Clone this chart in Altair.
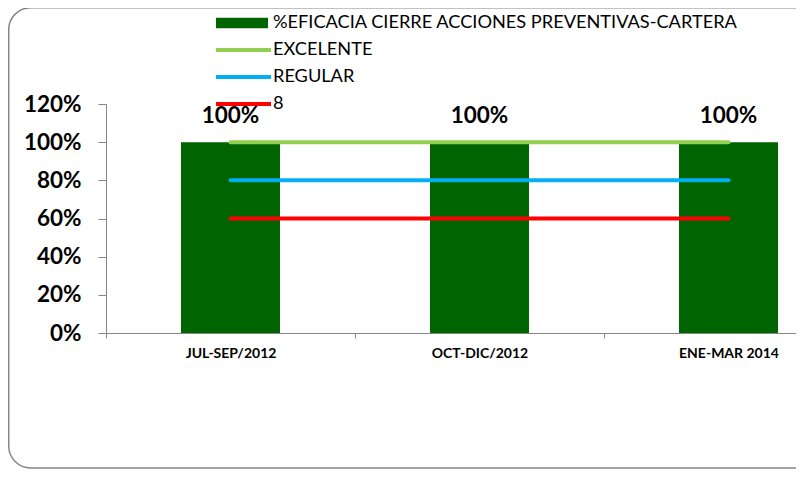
import altair as alt
import pandas as pd

categorias = ["JUL-SEP/2012", "OCT-DIC/2012", "ENE-MAR 2014"]
eficacia = [1.0, 1.0, 1.0]
excelente = [1.0, 1.0, 1.0]
regular = [0.8, 0.8, 0.8]
ocho = [0.6, 0.6, 0.6]

bar_name = "%EFICACIA CIERRE ACCIONES PREVENTIVAS-CARTERA"
line_names = ["EXCELENTE", "REGULAR", "8"]
line_colors = ["#92D050", "#00B0F0", "#FF0000"]
bar_color = "#006400"
FONT = "Lato"

idx = list(range(len(categorias)))
bars = pd.DataFrame({"idx": idx, "cat": categorias, "valor": eficacia, "serie": bar_name})
lines = pd.DataFrame({
    "idx": idx * 3,
    "valor": excelente + regular + ocho,
    "serie": [line_names[0]] * 3 + [line_names[1]] * 3 + [line_names[2]] * 3,
})

W, H = 690, 229
xscale = alt.Scale(domain=[-0.5, -0.5 + W / 249.0], nice=False, zero=False, padding=0)
yscale = alt.Scale(domain=[0, 1.2], nice=False, padding=0)

label_expr = ("datum.value % 1 == 0 ? " + str(categorias) + "[datum.value] : ''")

xaxis = alt.Axis(
    values=[-0.5, 0, 0.5, 1, 1.5, 2, 2.5], labelExpr=label_expr, title=None,
    tickOpacity={"condition": {"test": "datum.value % 1 != 0", "value": 1}, "value": 0},
    tickSize=5, tickColor="#868686", domainColor="#868686", domainWidth=1,
    labelFont=FONT, labelFontWeight="bold", labelFontSize=14, labelColor="#000000",
    labelPadding=8, labelOverlap=False, labelBound=False, grid=False,
)
yaxis = alt.Axis(
    values=[0, 0.2, 0.4, 0.6, 0.8, 1.0, 1.2], format=".0%", title=None,
    tickSize=8, tickColor="#868686", domainColor="#868686",
    labelFont=FONT, labelFontWeight="bold", labelFontSize=22.5, labelColor="#000000",
    labelPadding=17, labelOverlap=False, labelBound=False, grid=False,
)

frame = alt.Chart(pd.DataFrame({"a": [0]})).mark_rect(
    fill=None, stroke="#868686", strokeWidth=1.5, cornerRadius=22
).encode(
    x=alt.value(-97.3), y=alt.value(-96.3), x2=alt.value(900), y2=alt.value(364)
)

bar = alt.Chart(bars).mark_bar(size=99, clip=True).encode(
    x=alt.X("idx:Q", scale=xscale, axis=xaxis),
    y=alt.Y("valor:Q", scale=yscale, axis=yaxis),
    fill=alt.Fill("serie:N", scale=alt.Scale(domain=[bar_name], range=[bar_color]),
                  legend=alt.Legend(orient="none", legendX=110, legendY=-94.5, title=None,
                                    symbolType="M-1,-0.2H1V0.2H-1Z", symbolSize=2704,
                                    symbolStrokeWidth=0, symbolOpacity=1, padding=0,
                                    labelFont=FONT, labelFontSize=18.2, labelColor="#000000",
                                    labelOffset=5, labelLimit=700, clipHeight=27, rowPadding=0)),
)

line = alt.Chart(lines).mark_line(strokeWidth=4, strokeCap="round").encode(
    x=alt.X("idx:Q", scale=xscale, axis=xaxis),
    y=alt.Y("valor:Q", scale=yscale, axis=yaxis),
    stroke=alt.Stroke("serie:N", scale=alt.Scale(domain=line_names, range=line_colors),
                      sort=line_names,
                      legend=alt.Legend(orient="none", legendX=108, legendY=-67.5, title=None,
                                        symbolType="stroke", symbolSize=3025,
                                        symbolStrokeWidth=4, padding=0,
                                        labelFont=FONT, labelFontSize=18.2, labelColor="#000000",
                                        labelOffset=0, labelLimit=700, clipHeight=27, rowPadding=0)),
    detail="serie:N",
)

text = alt.Chart(bars).mark_text(
    dy=-19, baseline="alphabetic", font=FONT, fontWeight="bold", fontSize=22.5, color="#000000"
).encode(
    x=alt.X("idx:Q", scale=xscale, axis=xaxis),
    y=alt.Y("valor:Q", scale=yscale, axis=yaxis),
    text=alt.Text("valor:Q", format=".0%"),
)

chart = alt.layer(frame, bar, line, text).resolve_scale(
    fill="independent", stroke="independent"
).properties(
    width=W, height=H,
    padding={"left": 98, "top": 96, "right": 0, "bottom": 136},
    autosize=alt.AutoSizeParams(type="none"),
).configure_view(stroke=None)

chart.save("out.html", embed_options={"renderer": "svg", "actions": False})
